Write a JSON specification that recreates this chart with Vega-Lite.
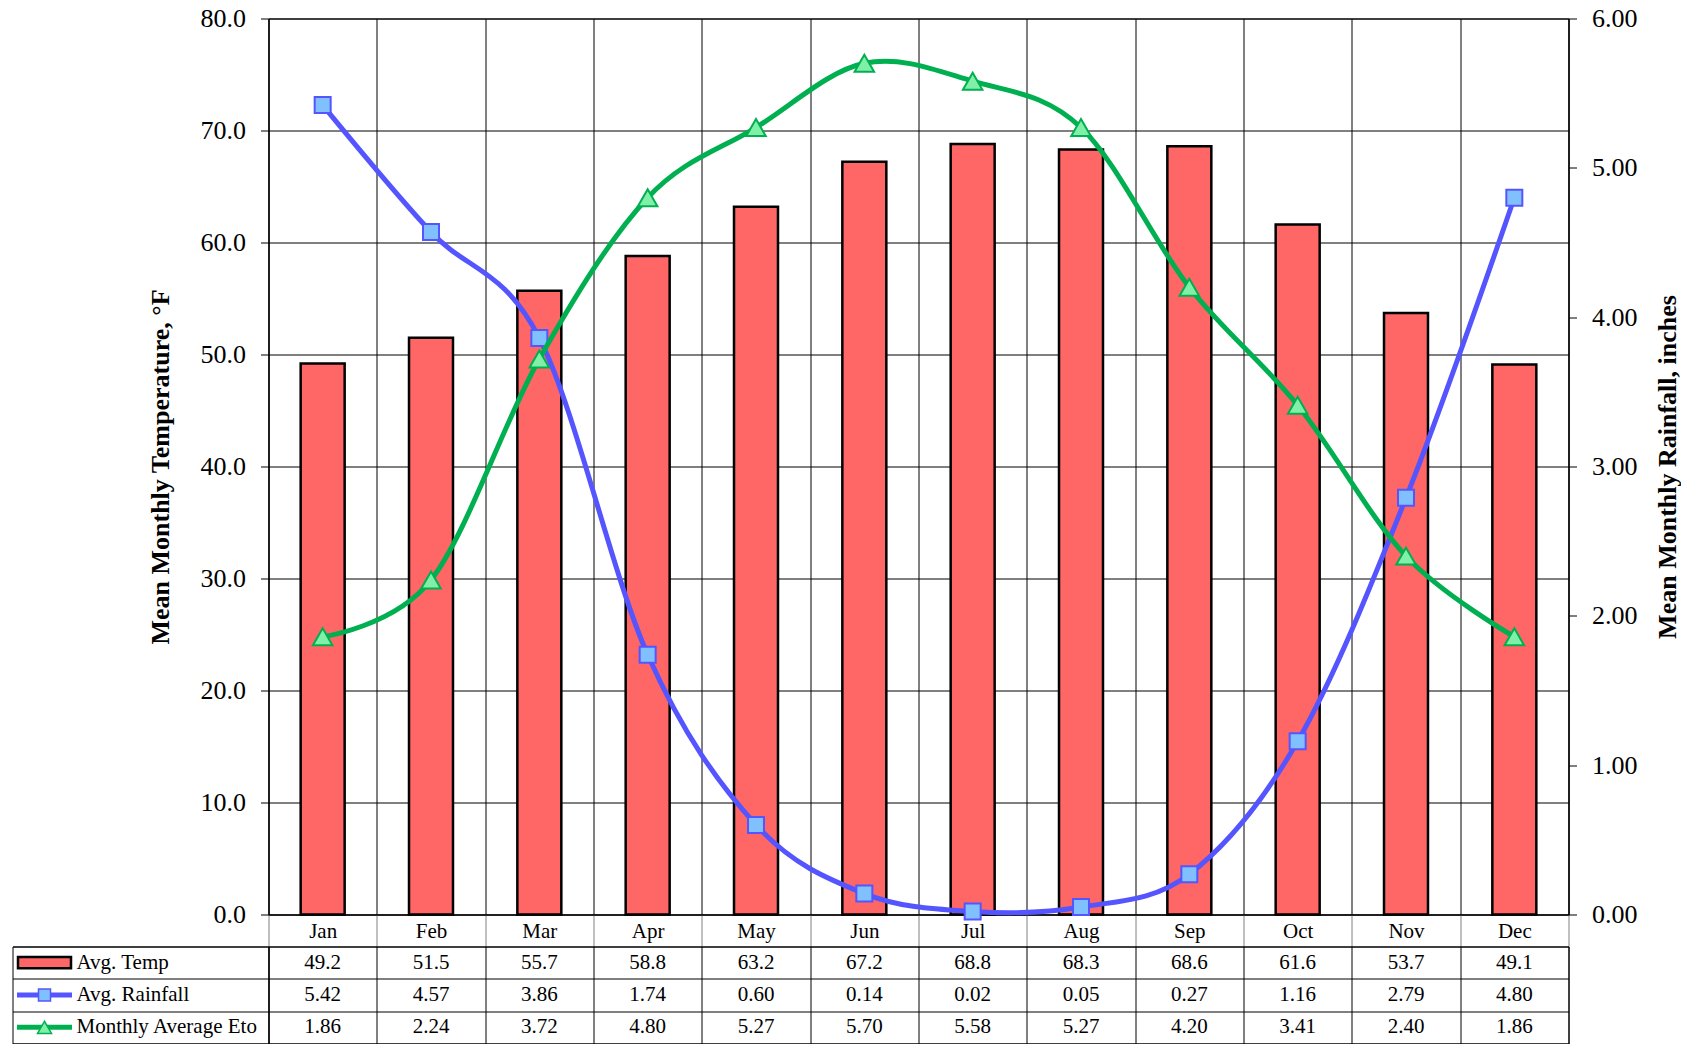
{
  "$schema": "https://vega.github.io/schema/vega-lite/v6.json",
  "background": "white",
  "padding": {"left": 11.5, "top": 4.5, "right": 0, "bottom": 0},
  "config": {
    "font": "Liberation Serif",
    "view": {"stroke": null},
    "axis": {"labelColor": "#000", "titleColor": "#000", "domainColor": "#000", "tickColor": "#000", "gridColor": "#000", "labelFont": "Liberation Serif", "titleFont": "Liberation Serif"},
    "text": {"font": "Liberation Serif", "color": "#000"}
  },
  "datasets": {
    "monthly": [
      {"month": "Jan", "temp": 49.2, "rain": 5.42, "eto": 1.86},
      {"month": "Feb", "temp": 51.5, "rain": 4.57, "eto": 2.24},
      {"month": "Mar", "temp": 55.7, "rain": 3.86, "eto": 3.72},
      {"month": "Apr", "temp": 58.8, "rain": 1.74, "eto": 4.80},
      {"month": "May", "temp": 63.2, "rain": 0.60, "eto": 5.27},
      {"month": "Jun", "temp": 67.2, "rain": 0.14, "eto": 5.70},
      {"month": "Jul", "temp": 68.8, "rain": 0.02, "eto": 5.58},
      {"month": "Aug", "temp": 68.3, "rain": 0.05, "eto": 5.27},
      {"month": "Sep", "temp": 68.6, "rain": 0.27, "eto": 4.20},
      {"month": "Oct", "temp": 61.6, "rain": 1.16, "eto": 3.41},
      {"month": "Nov", "temp": 53.7, "rain": 2.79, "eto": 2.40},
      {"month": "Dec", "temp": 49.1, "rain": 4.80, "eto": 1.86}
    ],
    "series": [
      {"series": "Avg. Temp"},
      {"series": "Avg. Rainfall"},
      {"series": "Monthly Average Eto"}
    ]
  },
  "columns": 2,
  "spacing": {"row": 32, "column": 0},
  "bounds": "flush",
  "align": "each",
  "concat": [
    {
      "data": {"values": []},
      "width": 256,
      "height": 896,
      "mark": {"type": "text", "text": ""}
    },
    {
      "data": {"name": "monthly"},
      "width": 1300,
      "height": 896,
      "view": {"stroke": "#000", "strokeWidth": 1},
      "encoding": {
        "x": {
          "field": "month", "type": "ordinal", "title": null,
          "scale": {"type": "band", "domain": ["Jan","Feb","Mar","Apr","May","Jun","Jul","Aug","Sep","Oct","Nov","Dec"], "paddingInner": 0, "paddingOuter": 0},
          "axis": {"orient": "bottom", "grid": true, "gridColor": "#000", "gridWidth": 1, "tickBand": "extent", "ticks": true, "tickSize": 32, "tickColor": "#808080", "tickWidth": 1, "domain": true, "domainColor": "#000", "labelFontSize": 21, "labelAngle": 0, "labelBaseline": "middle", "labelPadding": -15.3, "labelColor": "#000"}
        }
      },
      "layer": [
        {
          "mark": {"type": "bar", "width": {"band": 0.406}, "fill": "#FF6666", "stroke": "#000", "strokeWidth": 2.5},
          "encoding": {
            "y": {
              "field": "temp", "type": "quantitative",
              "scale": {"domain": [0, 80], "nice": false},
              "title": "Mean Monthly Temperature, °F",
              "axis": {"orient": "left", "values": [0, 10, 20, 30, 40, 50, 60, 70, 80], "format": ".1f", "grid": true, "gridColor": "#000", "gridWidth": 1, "tickSize": 8, "tickColor": "#000", "domainColor": "#000", "labelFontSize": 26, "labelPadding": 15, "titleFontSize": 26, "titleFontWeight": "bold", "titlePadding": 27}
            }
          }
        },
        {
          "layer": [
            {
              "mark": {"type": "line", "interpolate": "cardinal", "color": "#5555FF", "strokeWidth": 5},
              "encoding": {
                "y": {"field": "rain", "type": "quantitative", "scale": {"domain": [0, 6], "nice": false}, "title": "Mean Monthly Rainfall, inches",
                  "axis": {"orient": "right", "values": [0, 1, 2, 3, 4, 5, 6], "format": ".2f", "grid": false, "tickSize": 8, "tickColor": "#000", "domainColor": "#000", "labelFontSize": 26, "labelPadding": 15, "titleFontSize": 26, "titleFontWeight": "bold", "titleAngle": 270, "titleBaseline": "top", "titlePadding": 17}}
              }
            },
            {
              "mark": {"type": "point", "shape": "square", "size": 256, "filled": true, "fill": "#80C0FF", "stroke": "#5555FF", "strokeWidth": 2, "opacity": 1},
              "encoding": {
                "y": {"field": "rain", "type": "quantitative", "scale": {"domain": [0, 6], "nice": false}, "title": "Mean Monthly Rainfall, inches"}
              }
            },
            {
              "mark": {"type": "line", "interpolate": "cardinal", "color": "#00B050", "strokeWidth": 5},
              "encoding": {
                "y": {"field": "eto", "type": "quantitative", "scale": {"domain": [0, 6], "nice": false}, "title": "Mean Monthly Rainfall, inches"}
              }
            },
            {
              "mark": {"type": "point", "shape": "triangle-up", "size": 380, "filled": true, "fill": "#80F0A8", "stroke": "#00B050", "strokeWidth": 2, "opacity": 1},
              "encoding": {
                "y": {"field": "eto", "type": "quantitative", "scale": {"domain": [0, 6], "nice": false}, "title": "Mean Monthly Rainfall, inches"}
              }
            }
          ]
        }
      ],
      "resolve": {"scale": {"y": "independent"}}
    },
    {
      "data": {"name": "series"},
      "width": 256,
      "height": 97,
      "view": {"stroke": "#000", "strokeWidth": 1},
      "encoding": {
        "y": {
          "field": "series", "type": "nominal", "title": null,
          "scale": {"type": "band", "domain": ["Avg. Temp", "Avg. Rainfall", "Monthly Average Eto"], "paddingInner": 0, "paddingOuter": 0},
          "axis": {"grid": true, "gridColor": "#000", "tickBand": "extent", "labels": false, "ticks": false, "domain": false}
        }
      },
      "layer": [
        {
          "transform": [{"filter": "datum.series === 'Avg. Temp'"}],
          "mark": {"type": "point", "shape": "M-1,-0.21H1V0.21H-1Z", "size": 2809, "filled": true, "fill": "#FF6666", "stroke": "#000", "strokeWidth": 2.5, "opacity": 1},
          "encoding": {"x": {"datum": "a", "type": "nominal", "scale": {"type": "band", "domain": ["a", "b", "c", "d"], "paddingInner": 0, "paddingOuter": 0}, "axis": null}}
        },
        {
          "transform": [{"filter": "datum.series === 'Avg. Rainfall'"}],
          "mark": {"type": "point", "shape": "M-1,-0.09H1V0.09H-1Z", "size": 3025, "filled": true, "fill": "#5555FF", "strokeWidth": 0, "opacity": 1},
          "encoding": {"x": {"datum": "a", "type": "nominal", "scale": {"type": "band", "domain": ["a", "b", "c", "d"], "paddingInner": 0, "paddingOuter": 0}, "axis": null}}
        },
        {
          "transform": [{"filter": "datum.series === 'Avg. Rainfall'"}],
          "mark": {"type": "point", "shape": "square", "size": 144, "filled": true, "fill": "#80C0FF", "stroke": "#5555FF", "strokeWidth": 1.5, "opacity": 1},
          "encoding": {"x": {"datum": "a", "type": "nominal", "scale": {"type": "band", "domain": ["a", "b", "c", "d"], "paddingInner": 0, "paddingOuter": 0}, "axis": null}}
        },
        {
          "transform": [{"filter": "datum.series === 'Monthly Average Eto'"}],
          "mark": {"type": "point", "shape": "M-1,-0.09H1V0.09H-1Z", "size": 3025, "filled": true, "fill": "#00B050", "strokeWidth": 0, "opacity": 1},
          "encoding": {"x": {"datum": "a", "type": "nominal", "scale": {"type": "band", "domain": ["a", "b", "c", "d"], "paddingInner": 0, "paddingOuter": 0}, "axis": null}}
        },
        {
          "transform": [{"filter": "datum.series === 'Monthly Average Eto'"}],
          "mark": {"type": "point", "shape": "triangle-up", "size": 196, "filled": true, "fill": "#80F0A8", "stroke": "#00B050", "strokeWidth": 1.5, "opacity": 1},
          "encoding": {"x": {"datum": "a", "type": "nominal", "scale": {"type": "band", "domain": ["a", "b", "c", "d"], "paddingInner": 0, "paddingOuter": 0}, "axis": null}}
        },
        {
          "mark": {"type": "text", "align": "left", "baseline": "middle", "fontSize": 21, "color": "#000"},
          "encoding": {
            "x": {"datum": "b", "type": "nominal", "bandPosition": 0, "scale": {"type": "band", "domain": ["a", "b", "c", "d"], "paddingInner": 0, "paddingOuter": 0}, "axis": null},
            "text": {"field": "series", "type": "nominal"}
          }
        }
      ]
    },
    {
      "data": {"name": "monthly"},
      "width": 1300,
      "height": 97,
      "view": {"stroke": "#000", "strokeWidth": 1},
      "encoding": {
        "x": {
          "field": "month", "type": "ordinal", "title": null,
          "scale": {"type": "band", "domain": ["Jan","Feb","Mar","Apr","May","Jun","Jul","Aug","Sep","Oct","Nov","Dec"], "paddingInner": 0, "paddingOuter": 0},
          "axis": {"grid": true, "gridColor": "#000", "tickBand": "extent", "labels": false, "ticks": false, "domain": false}
        }
      },
      "layer": [
        {
          "mark": {"type": "text", "baseline": "middle", "fontSize": 21, "color": "#000"},
          "encoding": {
            "y": {"datum": "Avg. Temp", "type": "nominal", "title": null,
              "scale": {"type": "band", "domain": ["Avg. Temp", "Avg. Rainfall", "Monthly Average Eto"], "paddingInner": 0, "paddingOuter": 0},
              "axis": {"grid": true, "gridColor": "#000", "tickBand": "extent", "labels": false, "ticks": false, "domain": false}},
            "text": {"field": "temp", "type": "quantitative", "format": ".1f"}
          }
        },
        {
          "mark": {"type": "text", "baseline": "middle", "fontSize": 21, "color": "#000"},
          "encoding": {
            "y": {"datum": "Avg. Rainfall", "type": "nominal", "title": null},
            "text": {"field": "rain", "type": "quantitative", "format": ".2f"}
          }
        },
        {
          "mark": {"type": "text", "baseline": "middle", "fontSize": 21, "color": "#000"},
          "encoding": {
            "y": {"datum": "Monthly Average Eto", "type": "nominal", "title": null},
            "text": {"field": "eto", "type": "quantitative", "format": ".2f"}
          }
        }
      ]
    }
  ]
}
